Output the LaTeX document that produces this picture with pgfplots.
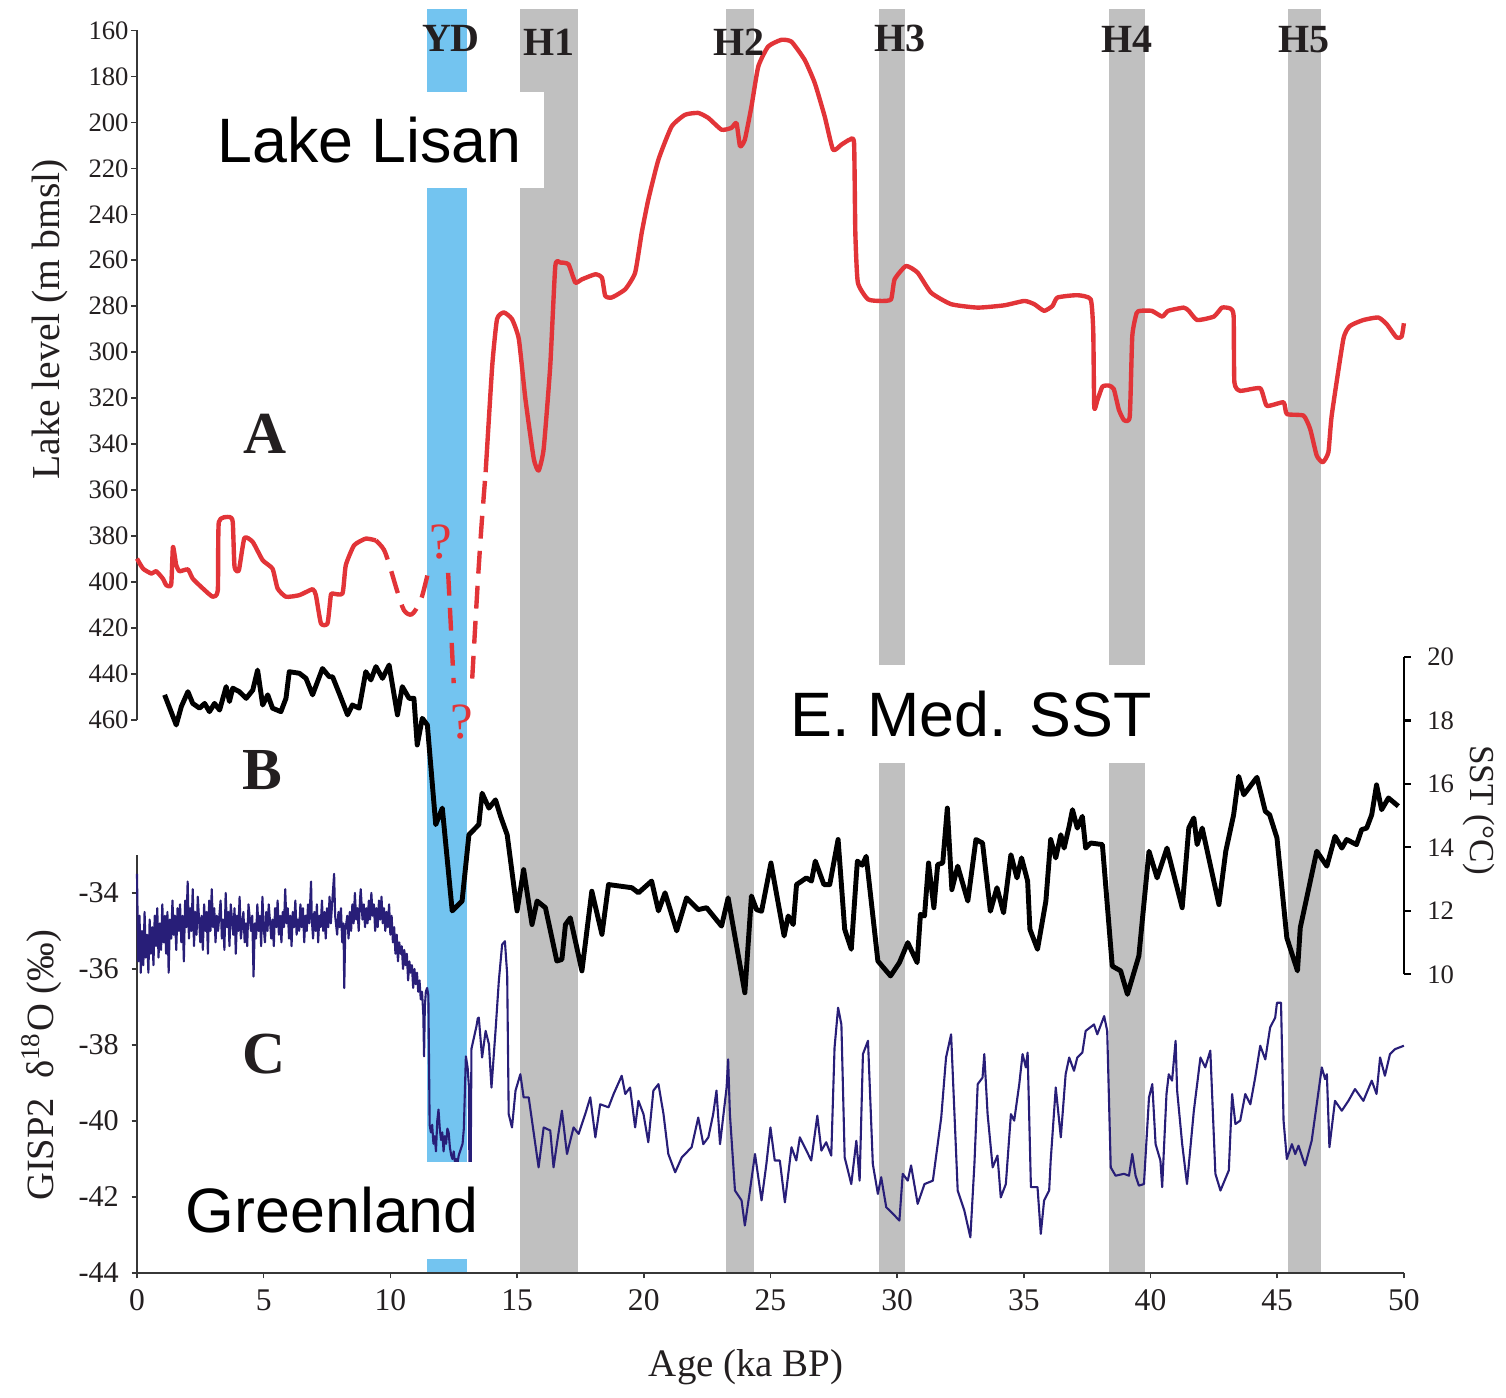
\documentclass[border=0pt]{standalone}
\usepackage{fontspec}
\setmainfont{Liberation Serif}
\newfontfamily\sans{Liberation Sans}
\usepackage{pgfplots}
\pgfplotsset{compat=1.18}

\definecolor{bandgray}{RGB}{192,192,192}
\definecolor{ydblue}{RGB}{115,196,240}
\definecolor{lisanred}{RGB}{226,52,56}
\definecolor{gispblue}{RGB}{40,30,120}
\definecolor{axgray}{RGB}{55,55,55}
\definecolor{txt}{RGB}{35,31,32}

\pgfplotsset{
  panel/.style={scale only axis, width=12.7cm, xmin=0, xmax=50, clip=false,
    tick align=outside, major tick length=1.7pt,
    axis line style={-, draw=axgray, line width=0.45pt},
    every tick/.style={draw=axgray, line width=0.45pt},
    ticklabel style={text=txt},
    /pgf/number format/assume math mode=true},
}

\begin{document}
\begin{tikzpicture}[x=1cm,y=1cm]
\path[fill=white] (0,0) rectangle (15.06,13.92);

% event bands (YD and Heinrich events)
\begin{axis}[scale only axis, width=12.7cm, height=12.668cm, at={(7.723cm,7.493cm)}, anchor=center,
  xmin=0, xmax=50, ymin=0, ymax=1, hide axis]
\addplot[fill=ydblue, draw=none] coordinates {(11.46,1) (13.03,1)} \closedcycle;
\addplot[fill=bandgray, draw=none] coordinates {(15.11,1) (17.40,1)} \closedcycle;
\addplot[fill=bandgray, draw=none] coordinates {(23.23,1) (24.35,1)} \closedcycle;
\addplot[fill=bandgray, draw=none] coordinates {(29.28,1) (30.31,1)} \closedcycle;
\addplot[fill=bandgray, draw=none] coordinates {(38.36,1) (39.78,1)} \closedcycle;
\addplot[fill=bandgray, draw=none] coordinates {(45.41,1) (46.72,1)} \closedcycle;
\end{axis}

% A: Lake Lisan level
\begin{axis}[panel, height=6.912cm, at={(7.723cm,10.159cm)}, anchor=center,
  ymin=160, ymax=460, y dir=reverse, axis x line=none, axis y line*=left,
  ytick={160,180,...,460},
  yticklabel style={font=\fontsize{7.6}{8}\selectfont, inner sep=0.5pt}]
\addplot[lisanred, line width=1.25pt, smooth, tension=0.3, line join=round] coordinates {
(0,389.8)(0.24,394.2)(0.57,396.3)(0.76,395.3)(1.02,398.5)(1.16,401.4)(1.35,401.1)(1.42,384.7)
(1.55,392.7)(1.68,395.3)(2.01,394.5)(2.2,398.5)(2.6,402.8)(2.99,406.4)(3.19,403.6)(3.23,373.9)
(3.65,371.7)(3.78,373.9)(3.85,393.4)(4.02,394.9)(4.24,380.8)(4.57,382.6)(4.96,390.5)(5.35,394.2)
(5.55,402.8)(5.88,406.4)(6.41,405.7)(6.93,403.1)(7.06,405.7)(7.26,418.0)(7.52,418.0)(7.65,405.7)
(7.72,405.0)(8.11,405.0)(8.24,392.7)(8.57,384.0)(9.03,381.1)(9.43,381.9)};
\addplot[lisanred, line width=1.25pt, smooth, tension=0.5, dash pattern=on 6.5pt off 3.5pt] coordinates {
(9.43,381.9)(9.75,386)(10.0,394)(10.28,404.3)(10.54,412.3)(10.85,414)(11.2,407.9)(11.46,397.1)};
\addplot[lisanred, line width=1.25pt, dash pattern=on 6.5pt off 3.5pt] coordinates {
(12.28,396)(12.5,444)};
\addplot[lisanred, line width=1.25pt, smooth, tension=0.4, dash pattern=on 6.5pt off 3.5pt] coordinates {
(13.23,442)(13.45,400)(13.6,375)(13.76,352.2)};
\addplot[lisanred, line width=1.25pt, smooth, tension=0.3, line join=round] coordinates {
(13.76,352.2)(14.02,305.9)(14.21,285.6)(14.48,282.7)(14.8,285.6)(15.07,294.3)(15.33,320.4)
(15.66,346.4)(15.85,351.5)(16.05,342.1)(16.31,305.9)(16.51,262.5)(16.71,261.0)(17.03,261.8)
(17.3,269.7)(17.56,268.3)(18.09,266.1)(18.35,267.6)(18.48,275.5)(18.74,276.2)(19.27,272.6)
(19.66,265.4)(19.92,248.0)(20.18,233.6)(20.58,216.2)(21.1,201.8)(21.63,196.7)(22.15,195.9)
(22.55,198.1)(23.07,203.2)(23.46,202.4)(23.66,200.3)(23.8,210.4)(23.99,207.5)(24.25,193.1)
(24.52,175.7)(24.91,167.0)(25.43,164.1)(25.83,164.9)(26.35,172.8)(26.75,182.9)(27.14,197.4)
(27.47,211.9)(27.8,209.7)(28.13,207.5)(28.3,209.0)(28.35,248.0)(28.45,269.7)(28.85,277.0)
(29.37,277.7)(29.76,277.0)(29.9,268.3)(30.35,262.5)(30.81,265.4)(31.34,274.1)(32.13,279.1)
(33.18,280.6)(34.23,279.6)(35.02,277.7)(35.41,279.1)(35.8,282.0)(36.13,279.9)(36.33,276.2)
(37.11,275.2)(37.64,277.0)(37.74,291)(37.78,324)(37.9,321)(38.1,315)(38.35,314.5)(38.55,316)
(38.75,325)(38.95,329.5)(39.18,328)(39.28,293)(39.45,283)(39.6,282)(40.05,282)(40.46,284.5)
(40.7,282)(41.31,280.6)(41.51,282.0)(41.84,286.0)(42.5,284.5)(42.82,280.6)(43.15,281.0)
(43.28,284.2)(43.31,313.1)(43.54,316.8)(44.33,315.7)(44.59,323.3)(45.25,321.8)(45.38,326.9)
(46.04,327.6)(46.3,333.4)(46.56,345.0)(46.8,347.9)(47.02,343.5)(47.15,327.6)(47.61,294.3)
(47.87,288.6)(48.4,286.0)(48.99,284.9)(49.32,287.8)(49.71,293.6)(49.91,293.2)(50.0,287.4)};
\node[lisanred, font=\fontsize{14.5}{15}\selectfont] at (axis cs:11.98,382.6) {?};
\node[lisanred, font=\fontsize{14.5}{15}\selectfont] at (axis cs:12.83,460.7) {?};
\end{axis}

% B: E. Med. SST
\begin{axis}[panel, height=3.18cm, at={(7.723cm,5.743cm)}, anchor=center,
  ymin=10, ymax=20, axis x line=none, axis y line*=right,
  axis line style={-, draw=black, line width=0.6pt},
  every tick/.style={draw=black, line width=0.6pt}, major tick length=2pt,
  ytick={10,12,...,20},
  yticklabel style={font=\fontsize{7.6}{8}\selectfont, inner sep=0.5pt, xshift=4pt}]
\addplot[black, line width=1.4pt, line join=round] coordinates {
(1.09,18.81)(1.55,17.86)(1.75,18.44)(2.01,18.91)(2.2,18.54)(2.47,18.39)(2.67,18.54)(2.86,18.28)
(3.06,18.54)(3.26,18.33)(3.39,18.70)(3.52,19.07)(3.65,18.60)(3.78,19.02)(4.04,18.91)(4.31,18.70)
(4.57,18.96)(4.76,19.59)(4.96,18.49)(5.16,18.81)(5.35,18.39)(5.68,18.28)(5.88,18.70)(6.01,19.54)
(6.41,19.49)(6.67,19.33)(6.93,18.81)(7.32,19.64)(7.59,19.38)(7.72,19.38)(7.98,18.86)(8.31,18.18)
(8.5,18.49)(8.77,18.39)(9.03,19.54)(9.23,19.28)(9.43,19.70)(9.69,19.33)(9.95,19.75)(10.28,18.18)
(10.47,19.07)(10.74,18.70)(10.93,18.70)(11.06,17.23)(11.26,18.07)(11.46,17.86)(11.79,14.72)
(12.05,15.24)(12.44,12.0)(12.83,12.31)(13.1,14.40)(13.49,14.72)(13.62,15.71)(13.89,15.24)
(14.15,15.50)(14.35,14.98)(14.61,14.40)(15.0,12.0)(15.26,13.30)(15.59,11.57)(15.79,12.31)
(16.12,12.10)(16.57,10.42)(16.77,10.47)(16.91,11.57)(17.1,11.78)(17.56,10.11)(17.95,12.62)
(18.35,11.26)(18.61,12.83)(19.53,12.73)(19.79,12.57)(20.31,12.94)(20.58,12.0)(20.84,12.57)
(21.3,11.37)(21.69,12.41)(22.15,12.04)(22.48,12.1)(23.07,11.52)(23.33,12.41)(23.99,9.42)
(24.25,12.47)(24.45,12.04)(24.65,11.99)(25.02,13.51)(25.54,11.21)(25.7,11.84)(25.9,11.57)
(26.03,12.83)(26.42,13.04)(26.62,12.94)(26.77,13.57)(27.11,12.83)(27.34,12.83)(27.67,14.25)
(27.93,11.42)(28.19,10.79)(28.43,13.57)(28.62,13.44)(28.78,13.72)(29.24,10.42)(29.74,9.95)
(30.09,10.37)(30.42,11.0)(30.79,10.37)(30.92,11.89)(31.08,11.84)(31.24,13.51)(31.45,12.1)
(31.6,13.46)(31.8,13.51)(31.98,15.24)(32.16,12.67)(32.39,13.41)(32.79,12.31)(33.11,14.25)
(33.37,14.14)(33.68,11.99)(33.94,12.73)(34.2,11.94)(34.49,13.77)(34.73,13.04)(34.91,13.67)
(35.15,12.94)(35.24,11.42)(35.54,10.79)(35.87,12.31)(36.06,14.25)(36.26,13.67)(36.46,14.4)
(36.59,13.98)(36.79,14.67)(36.92,15.19)(37.11,14.61)(37.31,14.98)(37.44,13.98)(37.64,14.14)
(38.1,14.09)(38.49,10.26)(38.82,10.11)(39.09,9.37)(39.54,10.58)(39.94,13.88)(40.26,13.04)
(40.65,13.98)(41.25,12.1)(41.51,14.61)(41.71,14.93)(41.84,14.09)(42.04,14.61)(42.24,13.88)
(42.7,12.2)(42.97,13.88)(43.28,15.03)(43.48,16.24)(43.68,15.66)(44.2,16.21)(44.53,15.14)
(44.7,15.03)(44.99,14.3)(45.38,11.15)(45.8,10.11)(45.91,11.47)(46.56,13.88)(46.96,13.41)
(47.28,14.35)(47.55,13.98)(47.74,14.25)(48.13,14.09)(48.33,14.56)(48.53,14.61)(48.73,15.03)
(48.92,15.97)(49.12,15.19)(49.39,15.56)(49.78,15.3)};
\end{axis}

% C: GISP2 d18O
\begin{axis}[panel, height=4.191cm, at={(7.723cm,3.2545cm)}, anchor=center,
  ymin=-44, ymax=-33, axis x line*=bottom, axis y line*=left,
  xtick={0,5,...,50}, ytick={-44,-42,...,-34},
  yticklabels={-44,-42,-40,-38,-36,-34},
  major tick length=1.5pt,
  xticklabel style={font=\fontsize{9}{10}\selectfont, inner sep=0pt, yshift=-3pt},
  yticklabel style={font=\fontsize{8.6}{9}\selectfont, inner sep=0.5pt, xshift=-3pt}]
\addplot[gispblue, line width=0.6pt, line join=round] coordinates {
(0.0,-33.5)(0.05,-35.8)(0.1,-34.6)(0.15,-36.1)(0.2,-35.0)(0.25,-35.9)(0.3,-34.5)(0.35,-35.7)
(0.4,-35.1)(0.45,-36.1)(0.5,-34.7)(0.55,-35.6)(0.6,-34.9)(0.65,-35.9)(0.7,-34.6)(0.75,-35.4)
(0.8,-34.4)(0.85,-35.7)(0.9,-34.8)(0.95,-35.5)(1.0,-34.3)(1.05,-35.3)(1.1,-34.6)(1.15,-35.6)
(1.2,-34.5)(1.25,-36.1)(1.3,-34.7)(1.35,-35.2)(1.4,-34.2)(1.45,-35.1)(1.5,-34.6)(1.55,-35.5)
(1.6,-34.4)(1.65,-35.0)(1.7,-34.3)(1.75,-35.3)(1.8,-34.6)(1.85,-35.8)(1.9,-34.2)(1.95,-34.9)
(2.0,-33.7)(2.05,-35.2)(2.1,-34.4)(2.15,-35.0)(2.2,-33.9)(2.25,-35.4)(2.3,-34.5)(2.35,-35.1)
(2.4,-34.1)(2.5,-35.3)(2.55,-34.6)(2.6,-35.5)(2.65,-34.3)(2.7,-35.0)(2.75,-34.5)(2.8,-35.6)
(2.85,-34.2)(2.9,-35.0)(2.95,-33.9)(3.0,-34.9)(3.05,-34.4)(3.1,-35.3)(3.15,-34.6)(3.2,-35.0)
(3.3,-34.2)(3.35,-35.2)(3.4,-34.7)(3.45,-35.5)(3.5,-34.0)(3.55,-34.9)(3.6,-34.5)(3.65,-35.4)
(3.7,-34.3)(3.8,-35.1)(3.85,-34.4)(3.9,-35.6)(3.95,-34.6)(4.0,-35.0)(4.05,-34.1)(4.1,-35.2)
(4.2,-34.5)(4.25,-35.3)(4.3,-34.8)(4.35,-35.4)(4.4,-34.3)(4.5,-35.0)(4.55,-34.6)(4.6,-36.2)
(4.65,-34.8)(4.7,-35.2)(4.75,-34.3)(4.8,-35.0)(4.85,-34.6)(4.9,-35.4)(4.95,-34.1)(5.0,-34.9)
(5.05,-35.3)(5.1,-34.5)(5.15,-35.0)(5.2,-34.3)(5.3,-35.2)(5.35,-34.7)(5.4,-35.4)(5.45,-34.4)
(5.5,-34.9)(5.55,-34.2)(5.6,-35.1)(5.65,-34.6)(5.7,-35.3)(5.75,-34.5)(5.8,-34.9)(5.85,-33.9)
(5.9,-34.8)(5.95,-34.4)(6.0,-35.2)(6.05,-34.6)(6.1,-35.4)(6.15,-34.5)(6.2,-34.9)(6.25,-34.2)
(6.3,-35.1)(6.35,-34.7)(6.4,-35.0)(6.45,-34.3)(6.5,-34.9)(6.55,-34.4)(6.6,-35.3)(6.65,-34.6)
(6.7,-35.0)(6.75,-34.3)(6.8,-34.8)(6.87,-33.7)(6.9,-34.7)(6.95,-35.2)(7.0,-34.5)(7.05,-35.0)
(7.1,-34.3)(7.15,-35.3)(7.2,-34.6)(7.25,-34.9)(7.3,-34.2)(7.35,-35.0)(7.4,-34.5)(7.45,-35.2)
(7.5,-34.4)(7.55,-34.9)(7.6,-34.1)(7.65,-34.8)(7.7,-34.3)(7.78,-33.5)(7.82,-34.6)(7.9,-35.1)
(7.95,-34.5)(8.0,-34.9)(8.05,-34.4)(8.1,-35.3)(8.15,-34.8)(8.18,-36.5)(8.22,-35.0)(8.3,-34.6)
(8.35,-35.2)(8.4,-34.5)(8.45,-35.0)(8.5,-34.3)(8.55,-34.8)(8.6,-34.0)(8.65,-34.7)(8.7,-34.4)
(8.75,-35.0)(8.8,-34.2)(8.83,-33.9)(8.9,-34.7)(8.95,-34.3)(9.0,-34.9)(9.05,-34.4)(9.1,-34.8)
(9.15,-34.2)(9.2,-34.7)(9.25,-34.0)(9.3,-34.6)(9.35,-34.3)(9.4,-35.0)(9.45,-34.4)(9.5,-34.9)
(9.55,-34.2)(9.6,-34.7)(9.65,-34.1)(9.7,-34.8)(9.75,-34.4)(9.8,-35.0)(9.85,-34.5)(9.9,-34.9)
(9.95,-34.3)(10.0,-35.1)(10.05,-34.6)(10.1,-35.3)(10.15,-34.9)(10.2,-35.6)(10.25,-35.1)(10.3,-35.8)
(10.35,-35.3)(10.4,-35.6)(10.45,-35.4)(10.5,-36.0)(10.55,-35.5)(10.6,-35.9)(10.65,-35.6)(10.7,-36.3)
(10.75,-35.8)(10.8,-36.1)(10.85,-35.9)(10.9,-36.5)(10.95,-36.0)(11.0,-36.4)(11.05,-36.1)(11.1,-36.6)
(11.15,-36.3)(11.2,-36.8)(11.25,-36.6)(11.3,-37.2)(11.33,-38.3)(11.36,-37.0)(11.4,-36.6)(11.45,-36.5)
(11.5,-36.7)(11.55,-40.1)(11.6,-40.3)(11.65,-40.1)(11.7,-40.6)(11.75,-40.4)(11.8,-40.8)(11.85,-40.0)
(11.9,-39.7)(11.95,-40.2)(12.0,-40.5)(12.05,-40.3)(12.1,-40.8)(12.15,-40.4)(12.2,-40.6)(12.25,-40.2)
(12.3,-40.3)(12.35,-40.7)(12.4,-40.9)(12.45,-41.0)(12.5,-40.8)(12.55,-41.1)(12.6,-41.0)(12.65,-41.1)
(12.7,-40.9)(12.75,-40.8)(12.8,-40.7)(12.85,-40.6)(12.9,-40.2)(12.95,-39.0)(12.98,-38.3)(13.05,-38.6)
(13.1,-39.1)(13.12,-41.3)(13.17,-41.2)(13.2,-38.1)(13.3,-37.8)(13.4,-37.5)(13.45,-37.3)
(13.49,-37.28)(13.62,-38.33)(13.76,-37.63)(13.89,-37.98)(13.99,-39.12)(14.15,-37.63)(14.28,-36.32)
(14.41,-35.36)(14.52,-35.27)(14.61,-36.14)(14.67,-39.82)(14.8,-40.17)(14.94,-39.2)(15.13,-38.77)
(15.26,-39.38)(15.46,-39.38)(15.72,-40.61)(15.85,-41.22)(16.05,-40.17)(16.31,-40.25)(16.44,-41.22)
(16.57,-40.61)(16.77,-39.73)(16.97,-40.87)(17.23,-40.17)(17.43,-40.34)(17.69,-39.82)(17.89,-39.38)
(18.09,-40.43)(18.28,-39.56)(18.61,-39.64)(18.81,-39.29)(19.13,-38.81)(19.27,-39.29)(19.46,-39.12)
(19.66,-40.17)(19.79,-39.47)(19.99,-39.82)(20.18,-40.56)(20.38,-39.2)(20.58,-39.03)(20.78,-39.82)
(20.97,-40.87)(21.24,-41.35)(21.5,-40.96)(21.89,-40.69)(22.15,-39.91)(22.35,-40.61)(22.55,-40.43)
(22.74,-39.82)(22.87,-39.2)(23.01,-40.61)(23.27,-39.12)(23.33,-38.38)(23.4,-39.82)(23.6,-41.83)
(23.86,-42.09)(23.99,-42.75)(24.19,-41.83)(24.39,-40.87)(24.65,-42.09)(24.84,-41.13)(25.0,-40.17)
(25.17,-41.04)(25.37,-41.04)(25.57,-42.14)(25.83,-40.69)(26.02,-41.04)(26.16,-40.43)(26.42,-40.78)
(26.61,-41.04)(26.85,-39.86)(27.01,-40.78)(27.2,-40.56)(27.4,-40.91)(27.53,-38.07)(27.67,-37.02)
(27.8,-37.46)(27.93,-40.96)(28.19,-41.66)(28.39,-40.52)(28.52,-41.57)(28.65,-38.24)(28.85,-37.89)
(29.04,-41.13)(29.24,-41.92)(29.37,-41.48)(29.57,-42.27)(29.83,-42.44)(30.09,-42.62)(30.22,-41.39)
(30.42,-41.57)(30.55,-41.17)(30.81,-42.18)(31.08,-41.66)(31.41,-41.57)(31.74,-39.91)(31.93,-38.33)
(32.13,-37.72)(32.39,-41.83)(32.65,-42.35)(32.89,-43.06)(33.05,-41.13)(33.18,-39.03)(33.37,-38.86)
(33.44,-38.24)(33.57,-39.82)(33.77,-41.22)(33.96,-40.91)(34.09,-42.01)(34.29,-41.66)(34.49,-39.82)
(34.62,-39.99)(34.82,-39.03)(34.95,-38.24)(35.08,-38.59)(35.15,-38.2)(35.28,-41.74)(35.54,-41.74)
(35.67,-42.97)(35.8,-42.09)(36.0,-41.83)(36.06,-41.04)(36.26,-39.12)(36.46,-40.43)(36.65,-38.77)
(36.79,-38.33)(36.98,-38.68)(37.11,-38.33)(37.31,-38.2)(37.44,-37.63)(37.77,-37.46)(37.9,-37.72)
(38.17,-37.24)(38.29,-37.63)(38.43,-41.22)(38.62,-41.44)(38.95,-41.39)(39.15,-41.44)(39.28,-40.87)
(39.41,-41.44)(39.54,-41.7)(39.74,-41.66)(39.94,-39.38)(40.07,-39.03)(40.2,-40.61)(40.39,-41.04)
(40.46,-41.74)(40.63,-39.29)(40.72,-38.77)(40.85,-38.94)(40.99,-37.89)(41.05,-39.2)(41.25,-40.61)
(41.44,-41.66)(41.71,-39.73)(41.97,-38.33)(42.16,-38.59)(42.36,-38.15)(42.56,-41.39)(42.76,-41.83)
(43.09,-41.3)(43.22,-39.29)(43.35,-40.08)(43.54,-39.99)(43.74,-39.29)(43.94,-39.56)(44.13,-38.86)
(44.33,-38.02)(44.53,-38.38)(44.72,-37.54)(44.92,-37.28)(44.99,-36.89)(45.15,-36.89)(45.25,-39.99)
(45.38,-41.0)(45.58,-40.61)(45.71,-40.87)(45.84,-40.65)(46.1,-41.17)(46.36,-40.52)(46.56,-39.56)
(46.76,-38.59)(46.89,-38.9)(46.96,-38.77)(47.06,-40.69)(47.28,-39.47)(47.55,-39.73)(47.81,-39.47)
(48.07,-39.16)(48.4,-39.47)(48.73,-38.94)(48.92,-39.29)(49.06,-38.33)(49.25,-38.81)(49.45,-38.24)
(49.65,-38.11)(50.0,-38.02)};
\end{axis}

% label boxes
\node[fill=white, minimum width=3.49cm, minimum height=0.96cm, inner sep=0pt,
  font=\sans\fontsize{17.9}{18}\selectfont] at (3.705,12.52) {Lake Lisan};
\node[fill=white, minimum width=3.97cm, minimum height=0.98cm, inner sep=0pt,
  font=\sans\fontsize{17.9}{18}\selectfont] at (9.735,6.76) {E. Med. SST};
\node[fill=white, minimum width=3.34cm, minimum height=0.97cm, inner sep=0pt,
  font=\sans\fontsize{17.9}{18}\selectfont] at (3.33,1.787) {Greenland};

% event labels
\begin{scope}[every node/.style={text=txt, font=\bfseries\fontsize{11.4}{12}\selectfont, inner sep=0pt}]
\node at (4.52,13.53) {YD};
\node at (5.50,13.50) {H1};
\node at (7.41,13.50) {H2};
\node at (9.025,13.53) {H3};
\node at (11.30,13.53) {H4};
\node at (13.07,13.52) {H5};
\end{scope}

% panel letters
\begin{scope}[every node/.style={text=txt, font=\bfseries\fontsize{17}{18}\selectfont, inner sep=0pt}]
\node at (2.66,9.57) {A};
\node at (2.63,6.20) {B};
\node at (2.65,3.35) {C};
\end{scope}

% axis titles
\node[rotate=90, text=txt, font=\fontsize{11.3}{12}\selectfont] at (0.505,10.72) {Lake level (m bmsl)};
\node[rotate=90, text=txt, font=\fontsize{11}{12}\selectfont] at (0.42,3.24) {GISP2\ \ δ\textsuperscript{18}O (‰)};
\node[rotate=-90, text=txt, font=\fontsize{10}{11}\selectfont] at (14.82,5.80) {SST (°C)};
\node[text=txt, font=\fontsize{11.1}{12}\selectfont] at (7.48,0.21) {Age (ka BP)};
\end{tikzpicture}
\end{document}
